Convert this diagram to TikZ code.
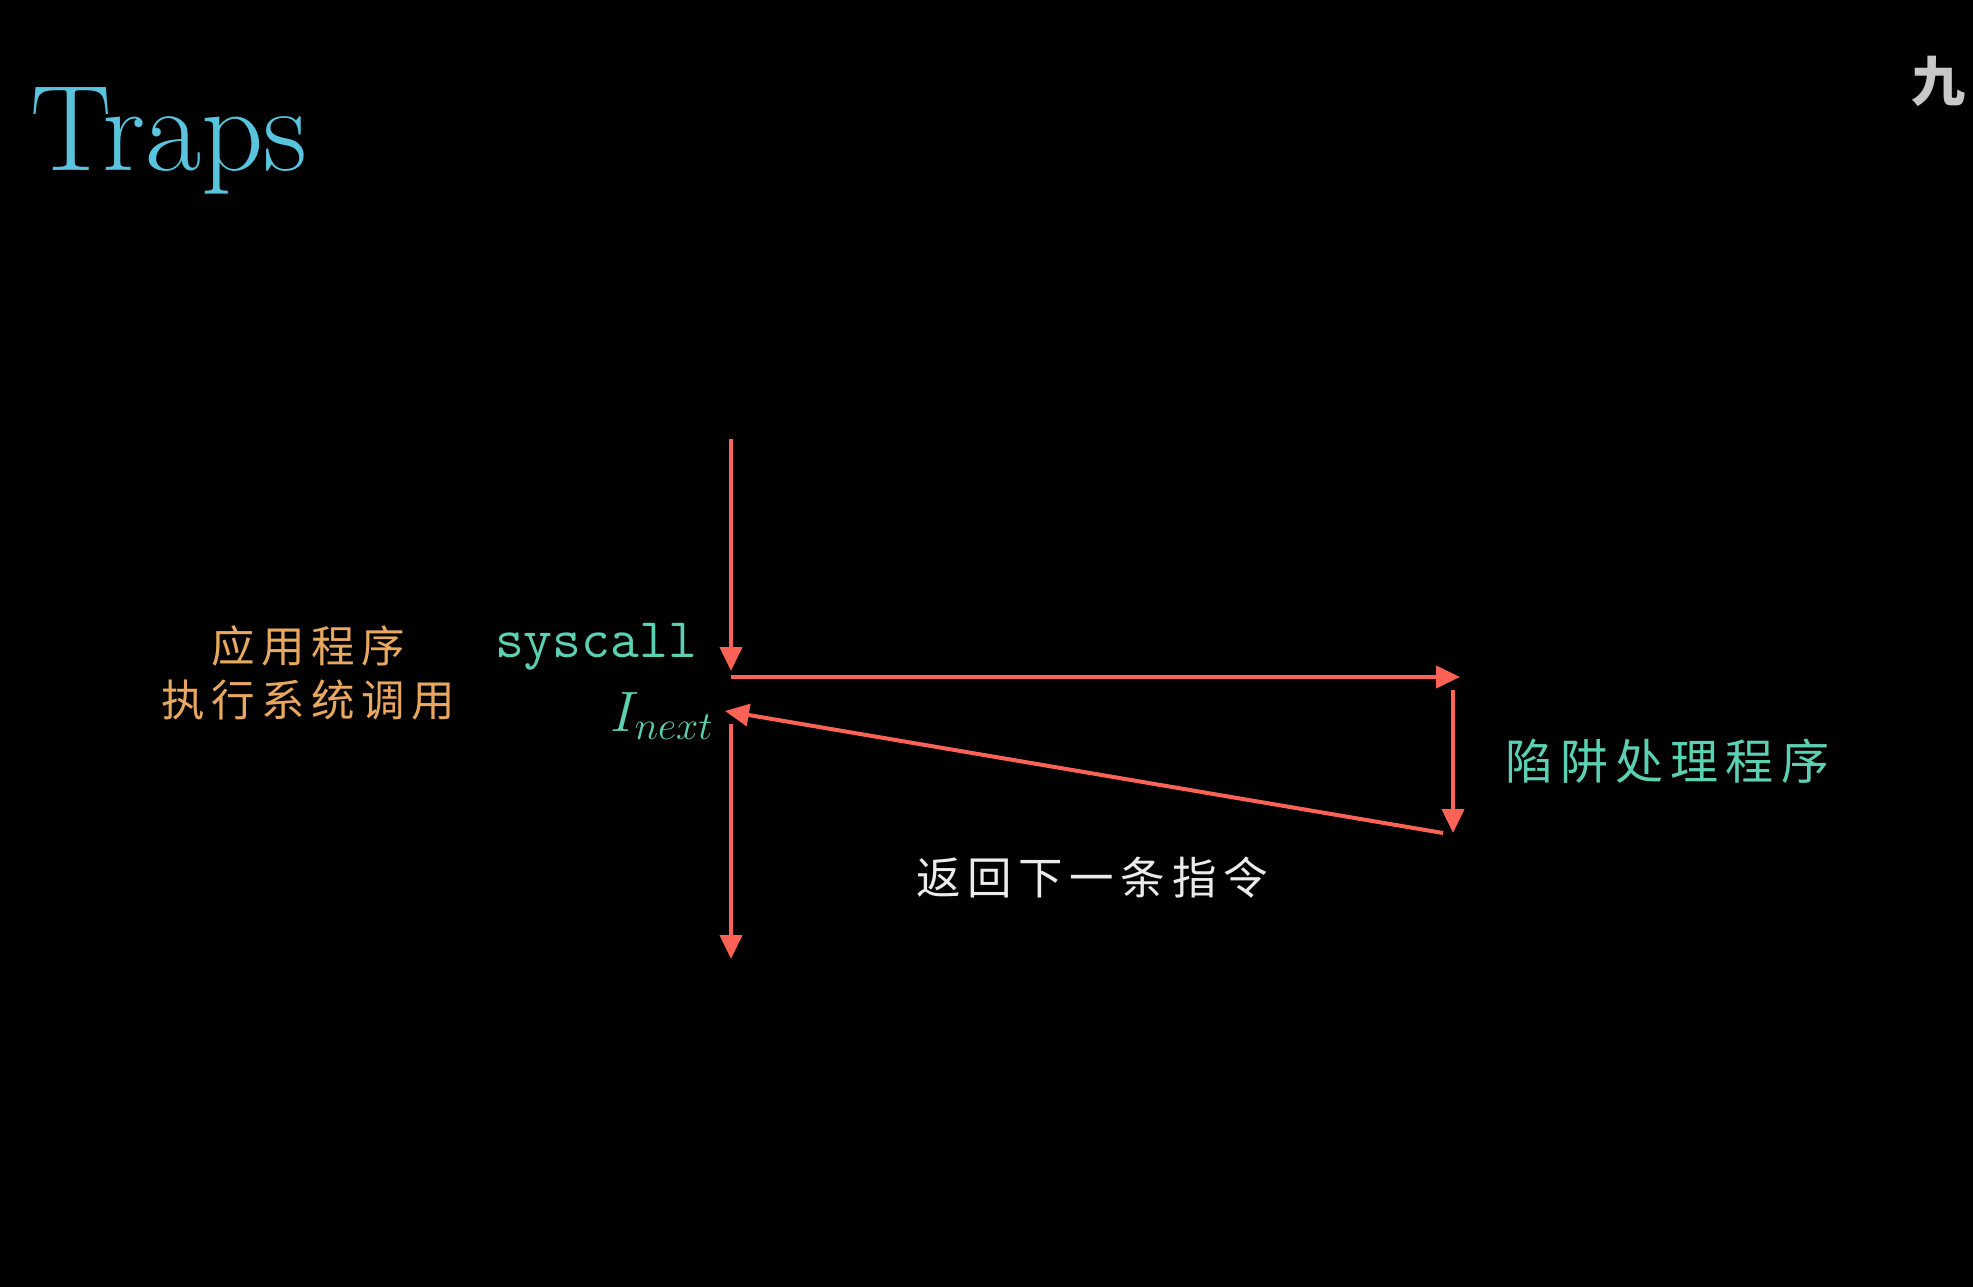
\RequirePackage{fix-cm}
\documentclass[tikz,border=0pt]{standalone}
\usepackage{fontspec}
\usepackage{xcolor}
\usepackage{amsmath}
\usepackage{tikz}
\usetikzlibrary{arrows.meta,positioning,calc}
\newfontfamily\cjk[LetterSpace=15]{Noto Sans CJK SC}
\newfontfamily\cjkmark{Noto Sans CJK SC}
\definecolor{titlecolor}{RGB}{88,196,221}
\definecolor{trapred}{RGB}{252,98,85}
\definecolor{tealcolor}{RGB}{92,208,179}
\definecolor{goldcolor}{RGB}{232,168,96}
\definecolor{markgray}{RGB}{200,200,200}

\begin{document}
\begin{tikzpicture}[
        x=1pt, y=-1pt,
        flow/.style={-{Triangle[width=22pt,length=24pt]}, line width=4pt, trapred},
        label/.style={inner sep=0pt, outer sep=0pt},
        cjktext/.style={label, font=\cjk\fontsize{43.5}{54}\selectfont, align=center}
    ]
        \useasboundingbox (0,0) rectangle (1973,1287);
        \fill[black] (0,0) rectangle (1973,1287);

        \node[label, anchor=base west, text=titlecolor, font=\fontsize{122}{122}\selectfont] (title) at (30,170) {Traps};
        \node[label, anchor=north west, text=markgray, font=\cjkmark\bfseries\fontsize{54}{54}\selectfont] (mark) at (1911,56) {九};

        % instruction stream
        \coordinate (top) at (731,439);
        \coordinate (call) at (731,671);
        \coordinate (enter) at (731,677);
        \coordinate (handler) at (1460,677);
        \coordinate (hstart) at (1453,690);
        \coordinate (hend) at (1453,833);
        \coordinate (back) at (1443,833);
        \coordinate (next) at (725,711);
        \coordinate (resume) at (731,724);
        \coordinate (bottom) at (731,959);

        \draw[flow] (top) -- (call);
        \draw[flow] (enter) -- (handler);
        \draw[flow] (hstart) -- (hend);
        \draw[flow] (back) -- (next);
        \draw[flow] (resume) -- (bottom);

        \node[label, anchor=base east, text=tealcolor, font=\ttfamily\fontsize{56}{56}\selectfont] (syscall) at (697,657) {syscall};
        \node[label, anchor=base east, text=tealcolor, font=\fontsize{57}{57}\selectfont] (inext) at (713,731) {$I_{next}$};

        \node[cjktext, text=goldcolor] (app) at (308,673) {应用程序\\执行系统调用};
        \node[cjktext, text=tealcolor, font=\cjk\fontsize{48}{48}\selectfont] (trap) at (1667,761) {陷阱处理程序};
        \node[cjktext, text=white!92!black, font=\cjk\fontsize{44.5}{44.5}\selectfont] (ret) at (1092,878) {返回下一条指令};
    \end{tikzpicture}
\end{document}
